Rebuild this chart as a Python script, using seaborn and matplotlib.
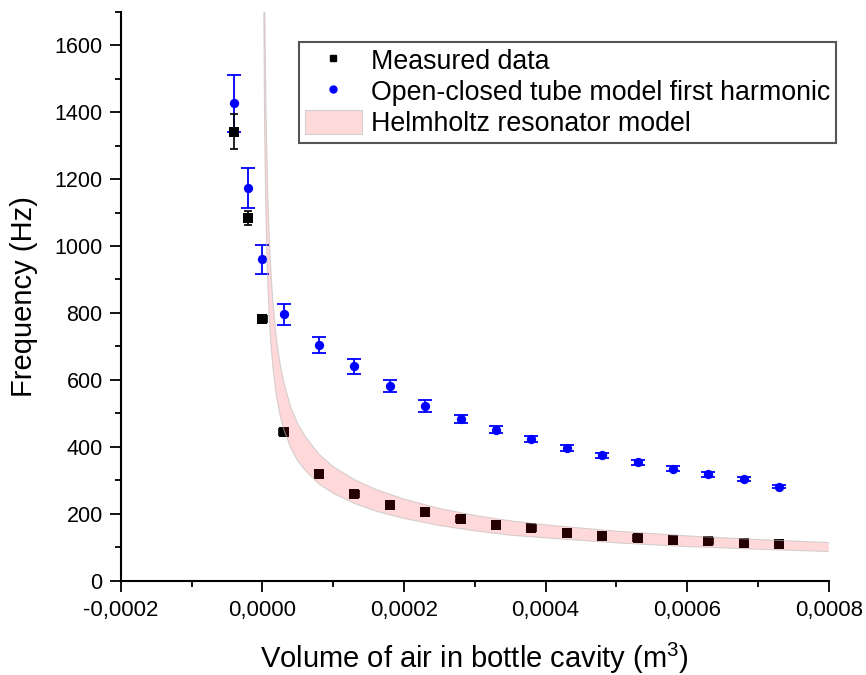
import matplotlib
matplotlib.use('Agg')
import numpy as np
import pandas as pd
import matplotlib.pyplot as plt
import seaborn as sns
from matplotlib.ticker import MultipleLocator, FuncFormatter
from matplotlib.patches import Patch
from matplotlib.lines import Line2D

# ---------------- data ----------------
volume = [-0.00004, -0.00002, 0.0, 0.00003, 0.00008, 0.00013, 0.00018, 0.00023,
          0.00028, 0.00033, 0.00038, 0.00043, 0.00048, 0.00053, 0.00058,
          0.00063, 0.00068, 0.00073]
measured = [1342, 1084, 781, 444, 320, 260, 225, 204, 183, 166, 156, 143, 133,
            129, 123, 120, 114, 110]
measured_yerr = [51, 20, 10, 10, 10, 10, 10, 10, 10, 10, 10, 10, 10, 10, 10,
                 10, 10, 10]
measured_xerr = [0.000006] * 18
tube = [1426, 1173, 960, 796, 705, 640, 583, 522, 483, 451, 423, 397, 375, 354,
        335, 318, 304, 281]
tube_err = [85, 60, 43, 31, 24, 23, 18, 17, 13, 11, 10, 9, 8, 8, 7, 7, 6, 5]

band_volume = [0.0000021, 0.000003, 0.0000036, 0.000004, 0.000005, 0.000006,
               0.000008, 0.00001, 0.000012, 0.000015, 0.00002, 0.000025,
               0.00003, 0.00004, 0.00005, 0.00006, 0.00008, 0.0001, 0.00013,
               0.00016, 0.0002, 0.00025, 0.0003, 0.00035, 0.0004, 0.0005,
               0.0006, 0.0007, 0.0008]
band_upper = [2222, 1859, 1697, 1610, 1440, 1315, 1138, 1018, 930, 831, 720,
              650, 596, 519, 469, 433, 378, 341, 302, 273, 244, 216, 195, 179,
              167, 148, 134, 123, 114]
band_lower = [1697, 1420, 1297, 1230, 1100, 1004, 870, 778, 710, 635, 550, 495,
              454, 397, 358, 331, 289, 261, 231, 208, 186, 165, 149, 136, 128,
              113, 102, 94, 87]

labels = ["Measured data", "Open-closed tube model first harmonic",
          "Helmholtz resonator model"]

# ---------------- style ----------------
sns.set_style('ticks')
plt.rcParams['font.family'] = ['Liberation Sans', 'DejaVu Sans']
plt.rcParams['mathtext.default'] = 'regular'
plt.rcParams['text.color'] = 'black'
plt.rcParams['axes.labelcolor'] = 'black'
plt.rcParams['xtick.color'] = 'black'
plt.rcParams['ytick.color'] = 'black'

fig = plt.figure(figsize=(8.66, 6.75), dpi=100)
ax = fig.add_axes([0.1394, 0.1397, 0.957 - 0.1394, 0.9827 - 0.1397])

df_meas = pd.DataFrame({'V': volume, 'f': measured})
df_tube = pd.DataFrame({'V': volume, 'f': tube})

# tube model
ax.errorbar(volume, tube, yerr=tube_err, fmt='none', ecolor='blue',
            elinewidth=1.3, capsize=5, capthick=1.3, zorder=2)
sns.scatterplot(data=df_tube, x='V', y='f', color='blue', marker='o', s=45,
                linewidth=0, ax=ax, zorder=3, legend=False)

# measured
ax.errorbar(volume, measured, yerr=measured_yerr, xerr=measured_xerr,
            fmt='none', ecolor='black', elinewidth=1.2, capsize=3,
            capthick=1.2, zorder=2)
sns.scatterplot(data=df_meas, x='V', y='f', color='black', marker='s', s=55,
                linewidth=0, ax=ax, zorder=3, legend=False)

# Helmholtz band (drawn on top, translucent)
ax.fill_between(band_volume, band_lower, band_upper, color='red', alpha=0.15,
                linewidth=0, zorder=4)
sns.lineplot(x=band_volume, y=band_upper, color='#bbbbbb', lw=0.8, alpha=0.6,
             ax=ax, zorder=4, estimator=None, sort=False)
sns.lineplot(x=band_volume, y=band_lower, color='#bbbbbb', lw=0.8, alpha=0.6,
             ax=ax, zorder=4, estimator=None, sort=False)

# axes
ax.set_xlim(-0.0002, 0.0008)
ax.set_ylim(0, 1700)
ax.xaxis.set_major_locator(MultipleLocator(0.0002))
ax.xaxis.set_minor_locator(MultipleLocator(0.0001))
ax.yaxis.set_major_locator(MultipleLocator(200))
ax.yaxis.set_minor_locator(MultipleLocator(100))


def xfmt(v, pos):
    s = f"{v:.4f}".replace('.', ',')
    if s == '-0,0000':
        s = '0,0000'
    return s


ax.xaxis.set_major_formatter(FuncFormatter(xfmt))
ax.yaxis.set_major_formatter(FuncFormatter(lambda v, p: f"{int(round(v))}"))

sns.despine(ax=ax)
for side in ['left', 'bottom']:
    ax.spines[side].set_linewidth(1.5)
    ax.spines[side].set_color('black')
ax.tick_params(which='major', direction='out', length=8, width=1.3,
               color='black', labelcolor='black')
ax.tick_params(which='minor', direction='out', length=4, width=1.3,
               color='black')
ax.tick_params(axis='x', which='major', labelsize=16, pad=6)
ax.tick_params(axis='y', which='major', labelsize=15.5, pad=5)

ax.set_xlabel('Volume of air in bottle cavity (m$^3$)', fontsize=21,
              labelpad=14, color='black')
ax.set_ylabel('Frequency (Hz)', fontsize=21, labelpad=12, color='black')

# legend
handles = [
    Line2D([], [], marker='s', color='black', linestyle='none', markersize=5),
    Line2D([], [], marker='o', color='blue', linestyle='none', markersize=5),
    Patch(facecolor='#ffdada', edgecolor='#d0d0d0', linewidth=0.8),
]
leg = ax.legend(handles, labels, loc='upper right',
                bbox_to_anchor=(0.9654, 0.9378), bbox_transform=fig.transFigure,
                fontsize=19.3, frameon=True, fancybox=False,
                edgecolor='#555555', framealpha=1, handlelength=2.1,
                handleheight=1.0, handletextpad=0.35, borderpad=0.22,
                labelspacing=0.14, borderaxespad=0)
leg.get_frame().set_linewidth(1.5)
leg.set_zorder(10)
for t in leg.get_texts():
    t.set_color('black')

fig.savefig('out.png', dpi=100)
